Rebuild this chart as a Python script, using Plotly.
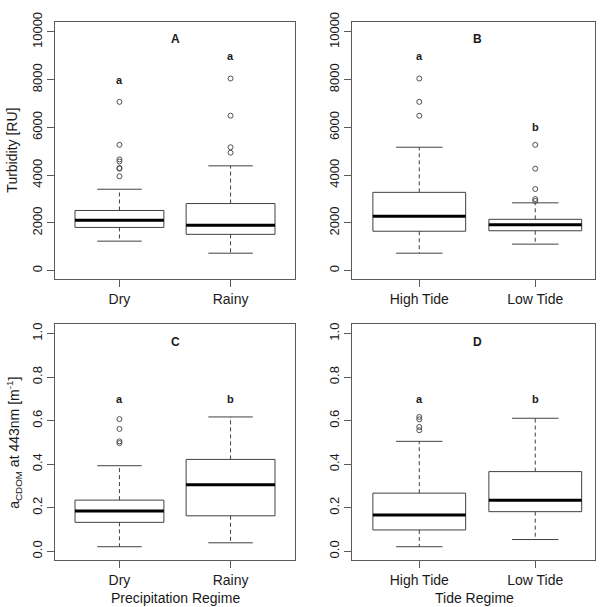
import plotly.graph_objects as go

# ---------------- data ----------------
cats_precip = ["Dry", "Rainy"]
cats_tide = ["High Tide", "Low Tide"]

# Panel A: Turbidity by precipitation regime
A_low = [1235, 730]
A_q1 = [1810, 1520]
A_med = [2110, 1905]
A_q3 = [2520, 2810]
A_up = [3410, 4390]
A_out_dry = [3950, 4270, 4300, 4570, 4660, 5270, 7070]
A_out_rainy = [4940, 5170, 6490, 8050]
A_letters = ["a", "a"]
A_letter_y = [8000, 9000]

# Panel B: Turbidity by tide regime
B_low = [730, 1110]
B_q1 = [1650, 1670]
B_med = [2280, 1920]
B_q3 = [3280, 2150]
B_up = [5170, 2840]
B_out_high = [6490, 7070, 8050]
B_out_low = [2920, 3000, 3420, 4270, 5270]
B_letters = ["a", "b"]
B_letter_y = [9000, 6000]

# Panel C: aCDOM by precipitation regime
C_low = [0.021, 0.039]
C_q1 = [0.133, 0.163]
C_med = [0.185, 0.306]
C_q3 = [0.235, 0.422]
C_up = [0.393, 0.617]
C_out_dry = [0.497, 0.505, 0.562, 0.607]
C_out_rainy = []
C_letters = ["a", "b"]
C_letter_y = [0.70, 0.70]

# Panel D: aCDOM by tide regime
D_low = [0.021, 0.054]
D_q1 = [0.098, 0.182]
D_med = [0.167, 0.234]
D_q3 = [0.267, 0.366]
D_up = [0.505, 0.611]
D_out_high = [0.556, 0.571, 0.606, 0.617]
D_out_low = []
D_letters = ["a", "b"]
D_letter_y = [0.70, 0.70]

panel_tags = ["A", "B", "C", "D"]
turb_ticks = [0, 2000, 4000, 6000, 8000, 10000]
cdom_ticks = [0.0, 0.2, 0.4, 0.6, 0.8, 1.0]

# ---------------- styling ----------------
FONT = "Liberation Sans, Arial, sans-serif"
LINE = "#404040"
FRAME = "#5a5a5a"
TXT = "#1a1a1a"
BOX_W = 0.8
CAP_W = 0.4

panels = [
    dict(cats=cats_precip, low=A_low, q1=A_q1, med=A_med, q3=A_q3, up=A_up,
         outs=[A_out_dry, A_out_rainy], letters=A_letters, ly=A_letter_y,
         tag=panel_tags[0], tag_y=9700, xa="x", ya="y"),
    dict(cats=cats_tide, low=B_low, q1=B_q1, med=B_med, q3=B_q3, up=B_up,
         outs=[B_out_high, B_out_low], letters=B_letters, ly=B_letter_y,
         tag=panel_tags[1], tag_y=9700, xa="x2", ya="y2"),
    dict(cats=cats_precip, low=C_low, q1=C_q1, med=C_med, q3=C_q3, up=C_up,
         outs=[C_out_dry, C_out_rainy], letters=C_letters, ly=C_letter_y,
         tag=panel_tags[2], tag_y=0.962, xa="x3", ya="y3"),
    dict(cats=cats_tide, low=D_low, q1=D_q1, med=D_med, q3=D_q3, up=D_up,
         outs=[D_out_high, D_out_low], letters=D_letters, ly=D_letter_y,
         tag=panel_tags[3], tag_y=0.962, xa="x4", ya="y4"),
]

fig = go.Figure()
annotations = []

for p in panels:
    for i in range(len(p["cats"])):
        xc = i + 1
        l, r = xc - BOX_W / 2, xc + BOX_W / 2
        cl, cr = xc - CAP_W / 2, xc + CAP_W / 2
        # whiskers (dashed)
        fig.add_trace(go.Scatter(
            x=[xc, xc, None, xc, xc],
            y=[p["q3"][i], p["up"][i], None, p["q1"][i], p["low"][i]],
            mode="lines", line=dict(color=LINE, width=1, dash="4px,3px"),
            xaxis=p["xa"], yaxis=p["ya"], showlegend=False, hoverinfo="skip"))
        # staples
        fig.add_trace(go.Scatter(
            x=[cl, cr, None, cl, cr],
            y=[p["up"][i], p["up"][i], None, p["low"][i], p["low"][i]],
            mode="lines", line=dict(color=LINE, width=1),
            xaxis=p["xa"], yaxis=p["ya"], showlegend=False, hoverinfo="skip"))
        # box
        fig.add_trace(go.Scatter(
            x=[l, r, r, l, l],
            y=[p["q1"][i], p["q1"][i], p["q3"][i], p["q3"][i], p["q1"][i]],
            mode="lines", line=dict(color=LINE, width=1),
            xaxis=p["xa"], yaxis=p["ya"], showlegend=False, hoverinfo="skip"))
        # median
        fig.add_trace(go.Scatter(
            x=[l, r], y=[p["med"][i], p["med"][i]],
            mode="lines", line=dict(color="#000000", width=3),
            xaxis=p["xa"], yaxis=p["ya"], showlegend=False, hoverinfo="skip"))
        # outliers
        if p["outs"][i]:
            fig.add_trace(go.Scatter(
                x=[xc] * len(p["outs"][i]), y=p["outs"][i],
                mode="markers",
                marker=dict(symbol="circle-open", size=5, color="#505050",
                            line=dict(width=1)),
                xaxis=p["xa"], yaxis=p["ya"], showlegend=False, hoverinfo="skip"))
        # significance letters
        annotations.append(dict(
            x=xc, y=p["ly"][i], xref=p["xa"], yref=p["ya"],
            xanchor="center", yanchor="middle",
            text="<b>%s</b>" % p["letters"][i], showarrow=False,
            font=dict(family=FONT, size=11, color=TXT)))
    annotations.append(dict(
        x=1.5, y=p["tag_y"], xref=p["xa"], yref=p["ya"],
        xanchor="center", yanchor="middle",
        text="<b>%s</b>" % p["tag"], showarrow=False,
        font=dict(family=FONT, size=12, color=TXT)))

W = H = 607
xl = [55 / W, 295 / W]
xr = [352 / W, 595 / W]
yt = [1 - 274 / H, 1 - 12 / H]
yb = [1 - 559 / H, 1 - 319 / H]

def xaxis(domain, anchor, rng, cats):
    return dict(domain=domain, anchor=anchor, range=rng,
                tickvals=[1, 2], ticktext=cats, ticks="outside", ticklen=7,
                tickcolor=FRAME, showline=True, mirror=True, linecolor=FRAME,
                linewidth=1, showgrid=False, zeroline=False,
                tickfont=dict(family=FONT, size=14, color=TXT))

def yaxis(domain, anchor, rng, ticks, fmt):
    return dict(domain=domain, anchor=anchor, range=rng,
                tickvals=ticks, tickformat=fmt, tickangle=-90,
                ticks="outside", ticklen=7, tickcolor=FRAME,
                showline=True, mirror=True, linecolor=FRAME, linewidth=1,
                showgrid=False, zeroline=False,
                tickfont=dict(family=FONT, size=13, color=TXT))

turb_rng = [-371, 10424]
cdom_rng = [-0.039, 1.045]

title_font = dict(family=FONT, size=14, color=TXT)
annotations += [
    dict(x=12 / W, y=1 - 143 / H, xref="paper", yref="paper",
         xanchor="center", yanchor="middle",
         text="Turbidity [RU]", textangle=-90, showarrow=False,
         font=title_font),
    dict(x=14 / W, y=1 - 440 / H, xref="paper", yref="paper",
         xanchor="center", yanchor="middle",
         text="a<sub>CDOM</sub> at 443nm [m<sup>-1</sup>]", textangle=-90,
         showarrow=False, font=title_font),
    dict(x=175 / W, y=1 - 598 / H, xref="paper", yref="paper",
         xanchor="center", yanchor="middle",
         text="Precipitation Regime", showarrow=False, font=title_font),
    dict(x=474 / W, y=1 - 598 / H, xref="paper", yref="paper",
         xanchor="center", yanchor="middle",
         text="Tide Regime", showarrow=False, font=title_font),
]

fig.update_layout(
    width=W, height=H, margin=dict(l=0, r=0, t=0, b=0),
    paper_bgcolor="white", plot_bgcolor="white",
    xaxis=xaxis(xl, "y", [0.42, 2.58], cats_precip),
    yaxis=yaxis(yt, "x", turb_rng, turb_ticks, "d"),
    xaxis2=xaxis(xr, "y2", [0.42, 2.515], cats_tide),
    yaxis2=yaxis(yt, "x2", turb_rng, turb_ticks, "d"),
    xaxis3=xaxis(xl, "y3", [0.42, 2.58], cats_precip),
    yaxis3=yaxis(yb, "x3", cdom_rng, cdom_ticks, ".1f"),
    xaxis4=xaxis(xr, "y4", [0.42, 2.515], cats_tide),
    yaxis4=yaxis(yb, "x4", cdom_rng, cdom_ticks, ".1f"),
    annotations=annotations,
    showlegend=False,
)

fig.write_html("out.html")
